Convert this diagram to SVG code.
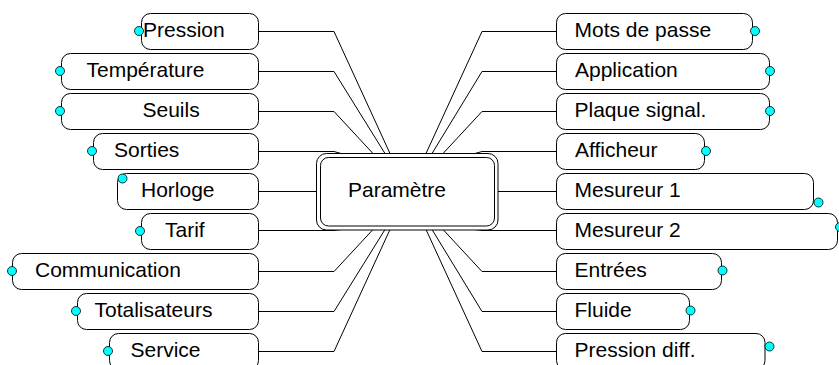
<svg xmlns="http://www.w3.org/2000/svg" width="839" height="365" viewBox="0 0 839 365">
  <style>
    .box { fill: #ffffff; stroke: #000000; stroke-width: 1; }
    .lbl { font-family: "Liberation Sans", Arial, sans-serif; font-size: 21px; fill: #000000; }
    .dot { fill: #00ffff; stroke: #000000; stroke-width: 0.8; }
    .wire { fill: none; stroke: #000000; stroke-width: 1; }
  </style>
  <rect width="839" height="365" fill="#ffffff"/>

  <!-- connectors from the central node to each branch -->
  <g id="connectors">
    <polyline class="wire" points="258.5,31.5 334,31.5 390,153.5"/>
    <polyline class="wire" points="258.5,71.5 334,71.5 385,153.5"/>
    <polyline class="wire" points="258.5,111.5 334,111.5 373,153.5"/>
    <polyline class="wire" points="258.5,151.5 334,151.5 341,153.5"/>
    <polyline class="wire" points="258.5,191.5 316.5,191.5"/>
    <polyline class="wire" points="258.5,230.5 334,230.5 341,229.5"/>
    <polyline class="wire" points="258.5,271.5 334,271.5 373,229.5"/>
    <polyline class="wire" points="258.5,311.5 334,311.5 385,229.5"/>
    <polyline class="wire" points="258.5,351.5 334,351.5 390,229.5"/>

    <polyline class="wire" points="556.5,31.5 482,31.5 426,153.5"/>
    <polyline class="wire" points="556.5,71.5 482,71.5 432,153.5"/>
    <polyline class="wire" points="556.5,111.5 482,111.5 443,153.5"/>
    <polyline class="wire" points="556.5,151.5 482,151.5 475,153.5"/>
    <polyline class="wire" points="556.5,191.5 498,191.5"/>
    <polyline class="wire" points="556.5,230.5 482,230.5 475,229.5"/>
    <polyline class="wire" points="556.5,271.5 482,271.5 443,229.5"/>
    <polyline class="wire" points="556.5,311.5 482,311.5 432,229.5"/>
    <polyline class="wire" points="556.5,351.5 482,351.5 426,229.5"/>
  </g>

  <!-- central node with double border -->
  <g id="node-parametre">
    <rect class="box" x="316.5" y="153.5" width="181.5" height="76.5" rx="10"/>
    <rect class="box" x="320.5" y="157.5" width="174" height="68.5" rx="8"/>
    <text class="lbl" x="348" y="197">Paramètre</text>
  </g>

  <!-- left branches -->
  <g id="node-pression">
    <rect class="box" x="141.5" y="13.5" width="117" height="36" rx="9"/>
    <text class="lbl" x="143" y="37">Pression</text>
    <circle class="dot" cx="139" cy="31" r="4.5"/>
  </g>
  <g id="node-temperature">
    <rect class="box" x="61.5" y="53.5" width="197" height="36" rx="9"/>
    <text class="lbl" x="86.5" y="77">Température</text>
    <circle class="dot" cx="60" cy="71" r="4.5"/>
  </g>
  <g id="node-seuils">
    <rect class="box" x="61.5" y="93.5" width="197" height="36" rx="9"/>
    <text class="lbl" x="142.5" y="117">Seuils</text>
    <circle class="dot" cx="60" cy="111" r="4.5"/>
  </g>
  <g id="node-sorties">
    <rect class="box" x="93.5" y="133.5" width="165" height="36" rx="9"/>
    <text class="lbl" x="114" y="157">Sorties</text>
    <circle class="dot" cx="92" cy="151" r="4.5"/>
  </g>
  <g id="node-horloge">
    <rect class="box" x="117.5" y="173.5" width="141" height="36" rx="9"/>
    <text class="lbl" x="141" y="197">Horloge</text>
    <circle class="dot" cx="122.5" cy="178.5" r="4.5"/>
  </g>
  <g id="node-tarif">
    <rect class="box" x="141.5" y="213.5" width="117" height="36" rx="9"/>
    <text class="lbl" x="165" y="237">Tarif</text>
    <circle class="dot" cx="140" cy="231" r="4.5"/>
  </g>
  <g id="node-communication">
    <rect class="box" x="12.5" y="253.5" width="246" height="36" rx="9"/>
    <text class="lbl" x="35" y="277">Communication</text>
    <circle class="dot" cx="12" cy="271" r="4.5"/>
  </g>
  <g id="node-totalisateurs">
    <rect class="box" x="77.5" y="293.5" width="181" height="36" rx="9"/>
    <text class="lbl" x="94.5" y="317">Totalisateurs</text>
    <circle class="dot" cx="76" cy="311" r="4.5"/>
  </g>
  <g id="node-service">
    <rect class="box" x="109.5" y="333.5" width="149" height="36" rx="9"/>
    <text class="lbl" x="130.5" y="357">Service</text>
    <circle class="dot" cx="108" cy="351" r="4.5"/>
  </g>

  <!-- right branches -->
  <g id="node-mots-de-passe">
    <rect class="box" x="556.5" y="13.5" width="196" height="36" rx="9"/>
    <text class="lbl" x="574.5" y="37">Mots de passe</text>
    <circle class="dot" cx="755" cy="31" r="4.5"/>
  </g>
  <g id="node-application">
    <rect class="box" x="556.5" y="53.5" width="213" height="36" rx="9"/>
    <text class="lbl" x="575" y="77">Application</text>
    <circle class="dot" cx="770" cy="71" r="4.5"/>
  </g>
  <g id="node-plaque">
    <rect class="box" x="556.5" y="93.5" width="213" height="36" rx="9"/>
    <text class="lbl" x="574.5" y="117">Plaque signal.</text>
    <circle class="dot" cx="770" cy="111" r="4.5"/>
  </g>
  <g id="node-afficheur">
    <rect class="box" x="556.5" y="133.5" width="148" height="36" rx="9"/>
    <text class="lbl" x="575" y="157">Afficheur</text>
    <circle class="dot" cx="706" cy="151" r="4.5"/>
  </g>
  <g id="node-mesureur-1">
    <rect class="box" x="556.5" y="173.5" width="257" height="36" rx="9"/>
    <text class="lbl" x="574.5" y="197">Mesureur 1</text>
    <circle class="dot" cx="818.5" cy="202.5" r="4.5"/>
  </g>
  <g id="node-mesureur-2">
    <rect class="box" x="556.5" y="213.5" width="281" height="36" rx="9"/>
    <text class="lbl" x="574.5" y="237">Mesureur 2</text>
    <circle class="dot" cx="840" cy="227" r="4.5"/>
  </g>
  <g id="node-entrees">
    <rect class="box" x="556.5" y="253.5" width="165" height="36" rx="9"/>
    <text class="lbl" x="574.5" y="277">Entrées</text>
    <circle class="dot" cx="722.5" cy="270.5" r="4.5"/>
  </g>
  <g id="node-fluide">
    <rect class="box" x="556.5" y="293.5" width="133" height="36" rx="9"/>
    <text class="lbl" x="574.5" y="317">Fluide</text>
    <circle class="dot" cx="690.5" cy="310.5" r="4.5"/>
  </g>
  <g id="node-pression-diff">
    <rect class="box" x="556.5" y="333.5" width="208.5" height="36" rx="9"/>
    <text class="lbl" x="574.5" y="357">Pression diff.</text>
    <circle class="dot" cx="769.5" cy="346.5" r="4.5"/>
  </g>
</svg>
